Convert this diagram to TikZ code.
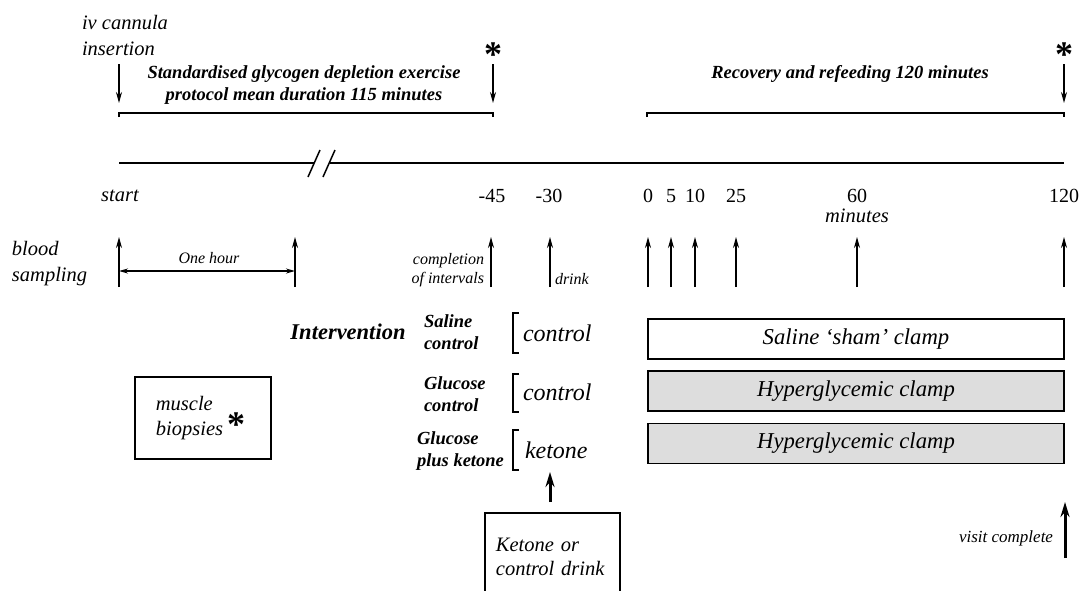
\documentclass[tikz,border=0pt]{standalone}
\usepackage{fontspec}
\setmainfont{Liberation Serif}
\usetikzlibrary{arrows.meta}
\definecolor{clampgray}{RGB}{221,221,221}
\tikzset{
  base/.style={inner sep=0pt, outer sep=0pt},
  lab/.style={base, font=\fontsize{20.5}{25.5}\selectfont\itshape},
  num/.style={base, font=\fontsize{20}{24}\selectfont},
  smalllab/.style={base, font=\fontsize{16}{19}\selectfont\itshape},
  ttl/.style={base, font=\fontsize{18.5}{22.5}\selectfont\bfseries\itshape, align=center},
  grp/.style={base, font=\fontsize{18.5}{22}\selectfont\bfseries\itshape, align=left, anchor=west},
  arm/.style={base, font=\fontsize{24}{28}\selectfont\itshape, anchor=west},
  star/.style={base, font=\fontsize{36}{36}\selectfont\bfseries},
  clampbox/.style={draw, line width=1.8pt, minimum width=416pt, minimum height=40pt, inner sep=0pt,
                   font=\fontsize{22.7}{27}\selectfont\itshape},
  thin/.style={line width=1.4pt},
  up/.style={-{Stealth[length=11pt,width=6pt]}, line width=1.4pt},
  bigup/.style={-{Stealth[length=15pt,width=9pt]}, line width=3pt},
  brk/.style={line width=1.6pt}
}
\begin{document}
\begin{tikzpicture}[x=1pt,y=-1pt]
\useasboundingbox (0,0) rectangle (1081,590);

% ---------- top annotations ----------
\node[lab, align=left, anchor=west] (ivc) at (82,35.5) {iv cannula\\insertion};
\node[ttl] (exer) at (304,85) {Standardised glycogen depletion exercise\\protocol mean duration 115 minutes};
\node[ttl] (recov) at (850,74) {Recovery and refeeding 120 minutes};
\node[star] (st1) at (493,55) {*};
\node[star] (st2) at (1064,55) {*};

\coordinate (da0) at (119,64);  \coordinate (da1) at (119,103);
\coordinate (db0) at (493,64);  \coordinate (db1) at (493,103);
\coordinate (dc0) at (1064,64); \coordinate (dc1) at (1064,103);
\draw[up] (da0) -- (da1);
\draw[up] (db0) -- (db1);
\draw[up] (dc0) -- (dc1);

% brackets over phases
\coordinate (ba) at (119,117); \coordinate (bb) at (493,117);
\coordinate (bc) at (647,117); \coordinate (bd) at (1064,117);
\draw[thin] (ba) -- ++(0,-4) -| (bb);
\draw[thin] (bc) -- ++(0,-4) -| (bd);

% ---------- timeline ----------
\coordinate (tl0) at (119,163); \coordinate (tl1) at (314,163);
\coordinate (tl2) at (330,163); \coordinate (tl3) at (1064,163);
\draw[line width=1.5pt] (tl0) -- (tl1);
\draw[line width=1.5pt] (tl2) -- (tl3);
\coordinate (s1a) at (308,177); \coordinate (s1b) at (320,150);
\coordinate (s2a) at (323,177); \coordinate (s2b) at (335,150);
\draw[line width=1.5pt] (s1a) -- (s1b);
\draw[line width=1.5pt] (s2a) -- (s2b);

\node[lab] (start) at (120,196) {start};
\node[num] (m45) at (492,196) {-45};
\node[num] (m30) at (549,196) {-30};
\node[num] (z0) at (648,196) {0};
\node[num] (z5) at (671,196) {5};
\node[num] (z10) at (695,196) {10};
\node[num] (z25) at (736,196) {25};
\node[num] (z60) at (857,196) {60};
\node[num] (z120) at (1064,196) {120};
\node[lab] (minutes) at (857,216) {minutes};

% ---------- blood sampling ----------
\node[lab, align=left, anchor=west] (blood) at (12,263.5) {blood\\sampling};
\foreach \n/\x in {a/119, b/295, c/491, d/550, e/648, f/671, g/695, h/736, i/857, j/1064} {
  \coordinate (bs\n0) at (\x,287);
  \coordinate (bs\n1) at (\x,237);
  \draw[up] (bs\n0) -- (bs\n1);
}
\coordinate (oh0) at (119,271); \coordinate (oh1) at (295,271);
\draw[{Stealth[length=9pt,width=5pt]}-{Stealth[length=9pt,width=5pt]}, line width=1.3pt] (oh0) -- (oh1);
\node[smalllab] (onehour) at (209,258) {One hour};
\node[smalllab, align=right, anchor=east] (compl) at (484,270.5) {completion\\of intervals};
\node[smalllab, anchor=west] (drink) at (555,279) {drink};

% ---------- intervention ----------
\node[base, font=\fontsize{22.5}{26}\selectfont\bfseries\itshape] (interv) at (348,332) {Intervention};
\node[grp] (g1) at (424,332.5) {Saline\\control};
\node[grp] (g2) at (424,394.5) {Glucose\\control};
\node[grp] (g3) at (417,451.5) {Glucose\\plus ketone};

\coordinate (k1a) at (519,313); \coordinate (k1b) at (519,353);
\coordinate (k2a) at (519,374); \coordinate (k2b) at (519,412);
\coordinate (k3a) at (519,430); \coordinate (k3b) at (519,470);
\draw[brk] (k1a) -- ++(-6,0) -- ++(0,40) -- (k1b);
\draw[brk] (k2a) -- ++(-6,0) -- ++(0,38) -- (k2b);
\draw[brk] (k3a) -- ++(-6,0) -- ++(0,40) -- (k3b);

\node[arm] (a1) at (523,333) {control};
\node[arm] (a2) at (523,392) {control};
\node[arm] (a3) at (525,450) {ketone};

\node[clampbox] (c1) at (856,339) {Saline ‘sham’ clamp};
\node[clampbox, fill=clampgray] (c2) at (856,391) {Hyperglycemic clamp};
\node[clampbox, fill=clampgray] (c3) at (856,443.5) {Hyperglycemic clamp};

% ---------- muscle biopsies ----------
\node[draw, line width=1.8pt, anchor=west, align=left, text width=94pt, inner xsep=21pt, inner ysep=0pt,
      minimum height=82pt, font=\fontsize{20.5}{25.5}\selectfont\itshape] (mbox) at (134,418) {muscle\\biopsies};
\node[star] (mstar) at (236,425) {*};

% ---------- ketone drink ----------
\node[draw, line width=1.8pt, anchor=north west, align=left, text width=113pt, inner xsep=11pt, inner ysep=0pt,
      minimum height=88pt, font=\fontsize{20.5}{24.5}\selectfont\itshape] (kbox) at (484,512) {Ketone or\\control drink};
\coordinate (ka0) at (550,502); \coordinate (ka1) at (550,472);
\draw[bigup] (ka0) -- (ka1);

% ---------- visit complete ----------
\node[base, font=\fontsize{17}{20}\selectfont\itshape, anchor=east] (visit) at (1053,538) {visit complete};
\coordinate (va0) at (1065,558); \coordinate (va1) at (1065,502);
\draw[bigup] (va0) -- (va1);
\end{tikzpicture}
\end{document}
